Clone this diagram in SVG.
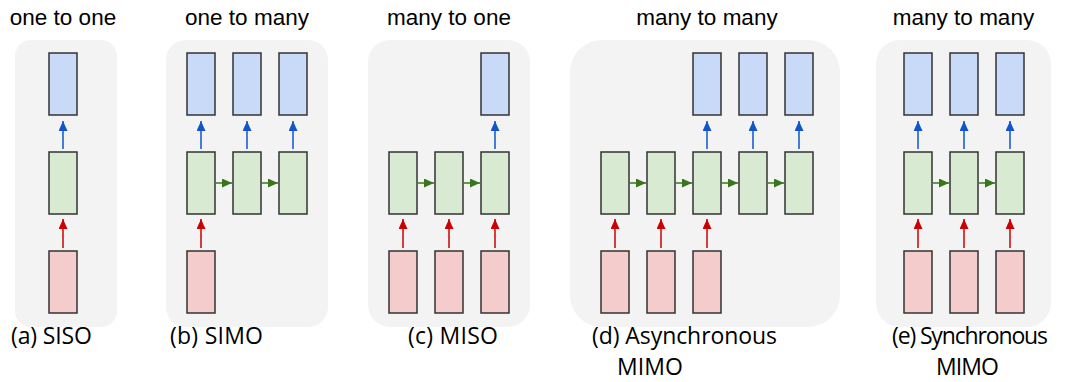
<svg xmlns="http://www.w3.org/2000/svg" width="1065" height="382" viewBox="0 0 1065 382">
<style>
.bg{fill:#f3f3f3}
.title{font-family:"Liberation Sans",Arial,sans-serif;font-size:22.5px;fill:#000;text-anchor:middle}
.cap{font-family:"Open Sans","Noto Sans",sans-serif;font-size:23px;fill:#000}
.o{fill:#c9daf8;stroke:#333;stroke-width:1.5}
.h{fill:#d9ead3;stroke:#333;stroke-width:1.5}
.i{fill:#f4cccc;stroke:#333;stroke-width:1.5}
.ab{stroke:#1155cc;stroke-width:1.5;fill:none;marker-end:url(#mb)}
.ar{stroke:#cc0000;stroke-width:1.5;fill:none;marker-end:url(#mr)}
.ag{stroke:#38761d;stroke-width:1.5;fill:none;marker-end:url(#mg)}
</style>
<defs>
<marker id="mb" markerUnits="userSpaceOnUse" markerWidth="10" markerHeight="9" refX="10" refY="4.5" orient="auto"><path d="M0,0 L10,4.5 L0,9 z" fill="#1155cc"/></marker>
<marker id="mr" markerUnits="userSpaceOnUse" markerWidth="10" markerHeight="9" refX="10" refY="4.5" orient="auto"><path d="M0,0 L10,4.5 L0,9 z" fill="#cc0000"/></marker>
<marker id="mg" markerUnits="userSpaceOnUse" markerWidth="10" markerHeight="9" refX="10" refY="4.5" orient="auto"><path d="M0,0 L10,4.5 L0,9 z" fill="#38761d"/></marker>
</defs>

<g id="panel-a">
<rect class="bg" x="15" y="40" width="102" height="287" rx="16"/>
<text class="title" x="63" y="25">one to one</text>
<text class="cap" x="11" y="344" textLength="81">(a) SISO</text>
</g>
<g id="panel-b">
<rect class="bg" x="166" y="40" width="162" height="287" rx="20"/>
<text class="title" x="247" y="25">one to many</text>
<text class="cap" x="170" y="344" textLength="93">(b) SIMO</text>
</g>
<g id="panel-c">
<rect class="bg" x="368" y="40" width="162" height="287" rx="22"/>
<text class="title" x="449" y="25">many to one</text>
<text class="cap" x="408" y="344" textLength="90">(c) MISO</text>
</g>
<g id="panel-d">
<rect class="bg" x="570" y="40" width="270" height="287" rx="32"/>
<text class="title" x="707" y="25">many to many</text>
<text class="cap" x="592" y="344" textLength="185">(d) Asynchronous</text>
<text class="cap" x="617" y="375" textLength="66">MIMO</text>
</g>
<g id="panel-e">
<rect class="bg" x="876" y="40" width="175" height="287" rx="24"/>
<text class="title" x="963.5" y="25">many to many</text>
<text class="cap" x="892" y="344" textLength="156">(e) Synchronous</text>
<text class="cap" x="936" y="375" textLength="63">MIMO</text>
</g>

<g id="connectors">
<!-- a -->
<path class="ab" d="M63,149 V121"/>
<path class="ar" d="M63,248 V219"/>
<!-- b -->
<path class="ab" d="M201,149 V121"/>
<path class="ab" d="M247,149 V121"/>
<path class="ab" d="M293,149 V121"/>
<path class="ar" d="M201,248 V219"/>
<path class="ag" d="M216,183 H232"/>
<path class="ag" d="M262,183 H278"/>
<!-- c -->
<path class="ab" d="M495,149 V121"/>
<path class="ar" d="M403,248 V219"/>
<path class="ar" d="M449,248 V219"/>
<path class="ar" d="M495,248 V219"/>
<path class="ag" d="M418,183 H434"/>
<path class="ag" d="M464,183 H480"/>
<!-- d -->
<path class="ab" d="M707,149 V121"/>
<path class="ab" d="M753,149 V121"/>
<path class="ab" d="M799,149 V121"/>
<path class="ar" d="M615,248 V219"/>
<path class="ar" d="M661,248 V219"/>
<path class="ar" d="M707,248 V219"/>
<path class="ag" d="M630,183 H646"/>
<path class="ag" d="M676,183 H692"/>
<path class="ag" d="M722,183 H738"/>
<path class="ag" d="M768,183 H784"/>
<!-- e -->
<path class="ab" d="M918,149 V121"/>
<path class="ab" d="M964,149 V121"/>
<path class="ab" d="M1010,149 V121"/>
<path class="ar" d="M918,248 V219"/>
<path class="ar" d="M964,248 V219"/>
<path class="ar" d="M1010,248 V219"/>
<path class="ag" d="M933,183 H949"/>
<path class="ag" d="M979,183 H995"/>
</g>

<g id="a-out"><rect class="o" x="49" y="53" width="28" height="62"/></g>
<g id="a-hid"><rect class="h" x="49" y="152" width="28" height="62"/></g>
<g id="a-in"><rect class="i" x="49" y="251" width="28" height="62"/></g>

<g id="b-out1"><rect class="o" x="187" y="53" width="28" height="62"/></g>
<g id="b-out2"><rect class="o" x="233" y="53" width="28" height="62"/></g>
<g id="b-out3"><rect class="o" x="279" y="53" width="28" height="62"/></g>
<g id="b-hid1"><rect class="h" x="187" y="152" width="28" height="62"/></g>
<g id="b-hid2"><rect class="h" x="233" y="152" width="28" height="62"/></g>
<g id="b-hid3"><rect class="h" x="279" y="152" width="28" height="62"/></g>
<g id="b-in1"><rect class="i" x="187" y="251" width="28" height="62"/></g>

<g id="c-out3"><rect class="o" x="481" y="53" width="28" height="62"/></g>
<g id="c-hid1"><rect class="h" x="389" y="152" width="28" height="62"/></g>
<g id="c-hid2"><rect class="h" x="435" y="152" width="28" height="62"/></g>
<g id="c-hid3"><rect class="h" x="481" y="152" width="28" height="62"/></g>
<g id="c-in1"><rect class="i" x="389" y="251" width="28" height="62"/></g>
<g id="c-in2"><rect class="i" x="435" y="251" width="28" height="62"/></g>
<g id="c-in3"><rect class="i" x="481" y="251" width="28" height="62"/></g>

<g id="d-out3"><rect class="o" x="693" y="53" width="28" height="62"/></g>
<g id="d-out4"><rect class="o" x="739" y="53" width="28" height="62"/></g>
<g id="d-out5"><rect class="o" x="785" y="53" width="28" height="62"/></g>
<g id="d-hid1"><rect class="h" x="601" y="152" width="28" height="62"/></g>
<g id="d-hid2"><rect class="h" x="647" y="152" width="28" height="62"/></g>
<g id="d-hid3"><rect class="h" x="693" y="152" width="28" height="62"/></g>
<g id="d-hid4"><rect class="h" x="739" y="152" width="28" height="62"/></g>
<g id="d-hid5"><rect class="h" x="785" y="152" width="28" height="62"/></g>
<g id="d-in1"><rect class="i" x="601" y="251" width="28" height="62"/></g>
<g id="d-in2"><rect class="i" x="647" y="251" width="28" height="62"/></g>
<g id="d-in3"><rect class="i" x="693" y="251" width="28" height="62"/></g>

<g id="e-out1"><rect class="o" x="904" y="53" width="28" height="62"/></g>
<g id="e-out2"><rect class="o" x="950" y="53" width="28" height="62"/></g>
<g id="e-out3"><rect class="o" x="996" y="53" width="28" height="62"/></g>
<g id="e-hid1"><rect class="h" x="904" y="152" width="28" height="62"/></g>
<g id="e-hid2"><rect class="h" x="950" y="152" width="28" height="62"/></g>
<g id="e-hid3"><rect class="h" x="996" y="152" width="28" height="62"/></g>
<g id="e-in1"><rect class="i" x="904" y="251" width="28" height="62"/></g>
<g id="e-in2"><rect class="i" x="950" y="251" width="28" height="62"/></g>
<g id="e-in3"><rect class="i" x="996" y="251" width="28" height="62"/></g>
</svg>
